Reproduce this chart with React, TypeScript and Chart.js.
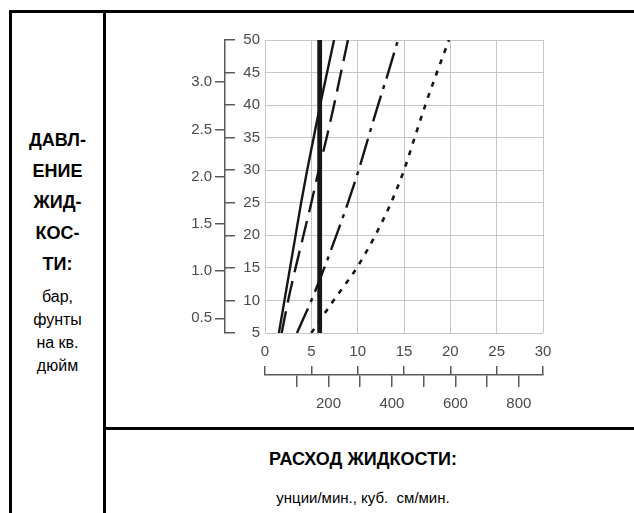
import React, { useEffect, useRef } from "react";
import { Chart, registerables } from "chart.js";

Chart.register(...registerables);

// ---- data ----
const PSI = [5, 10, 15, 20, 25, 30, 35, 40, 45, 50];
const FLOW_SOLID = [1.5, 2.1, 2.7, 3.3, 3.9, 4.55, 5.25, 5.95, 6.7, 7.45];
const FLOW_DASHED = [1.8, 2.5, 3.3, 4.15, 5.0, 5.8, 6.65, 7.45, 8.2, 8.95];
const FLOW_DASHDOT = [3.45, 5.0, 6.4, 7.7, 8.95, 10.1, 11.15, 12.2, 13.3, 14.35];
const FLOW_DOTTED = [5.0, 7.4, 9.9, 11.9, 13.6, 15.0, 16.15, 17.3, 18.55, 19.85];
const FLOW_LIMIT = [5.9, 5.9];
const PSI_RANGE = [5, 50];

const OZ_TICKS = [0, 5, 10, 15, 20, 25, 30];
const PSI_TICKS = [5, 10, 15, 20, 25, 30, 35, 40, 45, 50];
const BAR_TICKS = [0.5, 1.0, 1.5, 2.0, 2.5, 3.0];
const CC_TICKS = [100, 200, 300, 400, 500, 600, 700, 800];
const CC_LABELED = [200, 400, 600, 800];
const PSI_PER_BAR = 14.5038;
const CC_PER_OZ = 29.2;

const LEFT_BOLD = ["ДАВЛ-", "ЕНИЕ", "ЖИД-", "КОС-", "ТИ:"];
const LEFT_UNITS = ["бар,", "фунты", "на кв.", "дюйм"];
const BOTTOM_TITLE = "РАСХОД ЖИДКОСТИ:";
const BOTTOM_UNITS = "унции/мин., куб.  см/мин.";

const FONT = '"Liberation Sans", Arial, Helvetica, sans-serif';

const pts = (xs: number[], ys: number[]) => xs.map((x, i) => ({ x, y: ys[i] }));
const setTicks = (vals: number[]) => (s: any) => {
  s.ticks = vals.map((v) => ({ value: v }));
};

export default function App() {
  const ref = useRef<HTMLCanvasElement>(null);

  useEffect(() => {
    const canvas = ref.current;
    if (!canvas) return;
    const labelColor = "#4a4a4a";
    const axisColor = "#5a5a5a";
    const gridColor = "#c6c6c6";
    const lineColor = "#161616";
    const font = { family: FONT, size: 15 };

    const curve = {
      showLine: true,
      borderColor: lineColor,
      pointRadius: 0,
      cubicInterpolationMode: "monotone",
    };

    const chart = new Chart(canvas, {
      type: "scatter",
      data: {
        datasets: [
          { ...curve, data: pts(FLOW_SOLID, PSI), borderWidth: 2.4 },
          { ...curve, data: pts(FLOW_DASHED, PSI), borderWidth: 2.4, borderDash: [22, 9] },
          { ...curve, data: pts(FLOW_DASHDOT, PSI), borderWidth: 2.4, borderDash: [27, 7, 4, 7] },
          { ...curve, data: pts(FLOW_DOTTED, PSI), borderWidth: 2.6, borderDash: [5, 7] },
          {
            data: pts(FLOW_LIMIT, PSI_RANGE),
            showLine: true,
            borderColor: lineColor,
            borderWidth: 4.8,
            pointRadius: 0,
          },
        ],
      },
      options: {
        animation: false,
        responsive: false,
        maintainAspectRatio: false,
        layout: { padding: { left: 79, right: 91, top: 26, bottom: 12 } },
        plugins: { legend: { display: false }, tooltip: { enabled: false } },
        scales: {
          x: {
            type: "linear",
            position: "bottom",
            min: 0,
            max: 30,
            afterBuildTicks: setTicks(OZ_TICKS),
            ticks: { color: labelColor, font, padding: 10, autoSkip: false, maxRotation: 0 },
            grid: { color: gridColor, lineWidth: 1, drawTicks: false },
            border: { display: false },
            afterFit: (s: any) => {
              s.height = 33;
            },
          },
          xTicks: {
            type: "linear",
            axis: "x",
            position: "bottom",
            weight: 1,
            min: 0,
            max: 30,
            afterBuildTicks: setTicks(OZ_TICKS),
            ticks: { display: false, autoSkip: false },
            grid: { drawOnChartArea: false, drawTicks: true, tickLength: 9, color: axisColor, lineWidth: 1.5 },
            border: { display: false },
            afterFit: (s: any) => {
              s.height = 9;
            },
          },
          xCc: {
            type: "linear",
            axis: "x",
            position: "bottom",
            weight: 2,
            min: 0,
            max: 30 * CC_PER_OZ,
            afterBuildTicks: setTicks(CC_TICKS),
            ticks: {
              color: labelColor,
              font,
              padding: 8,
              autoSkip: false,
              maxRotation: 0,
              callback: (v: any) => (CC_LABELED.includes(Number(v)) ? String(v) : ""),
            },
            grid: { drawOnChartArea: false, drawTicks: true, tickLength: 12, color: axisColor, lineWidth: 1.5 },
            border: { display: true, color: axisColor, width: 1.5 },
            afterFit: (s: any) => {
              s.height = 40;
            },
          },
          y: {
            type: "linear",
            position: "left",
            min: 5,
            max: 50,
            afterBuildTicks: setTicks(PSI_TICKS),
            ticks: { color: labelColor, font, padding: 5, autoSkip: false },
            grid: { color: gridColor, lineWidth: 1, drawTicks: false },
            border: { display: false },
            afterFit: (s: any) => {
              s.width = 30;
            },
          },
          yTicks: {
            type: "linear",
            axis: "y",
            position: "left",
            weight: 1,
            min: 5,
            max: 50,
            afterBuildTicks: setTicks(PSI_TICKS),
            ticks: { display: false, autoSkip: false },
            grid: { drawOnChartArea: false, drawTicks: true, tickLength: 10, color: axisColor, lineWidth: 1.5 },
            border: { display: false },
            afterFit: (s: any) => {
              s.width = 10;
            },
          },
          yBar: {
            type: "linear",
            axis: "y",
            position: "left",
            weight: 2,
            min: 5 / PSI_PER_BAR,
            max: 50 / PSI_PER_BAR,
            afterBuildTicks: setTicks(BAR_TICKS),
            ticks: {
              color: labelColor,
              font,
              padding: 3,
              autoSkip: false,
              callback: (v: any) => Number(v).toFixed(1),
            },
            grid: { drawOnChartArea: false, drawTicks: true, tickLength: 10, color: axisColor, lineWidth: 1.5 },
            border: { display: true, color: axisColor, width: 1.5 },
            afterFit: (s: any) => {
              s.width = 40;
            },
          },
        },
      } as any,
    });
    return () => chart.destroy();
  }, []);

  const line = (l: number, t: number, w: number, h: number) => (
    <div style={{ position: "absolute", left: l, top: t, width: w, height: h, background: "#000" }} />
  );

  return (
    <div
      style={{
        position: "absolute",
        left: 0,
        top: 0,
        width: 634,
        height: 513,
        overflow: "hidden",
        background: "#fff",
        fontFamily: FONT,
        color: "#000",
      }}
    >
      <canvas
        ref={ref}
        width={528}
        height={413}
        style={{ position: "absolute", left: 106, top: 14, width: 528, height: 413 }}
      />
      {line(9, 10, 625, 3)}
      {line(9, 10, 3, 503)}
      {line(103, 10, 3, 503)}
      {line(103, 427, 531, 3)}
      <div
        style={{
          position: "absolute",
          left: 12,
          width: 91,
          top: 125,
          textAlign: "center",
          fontWeight: "bold",
          fontSize: 18,
          lineHeight: "31px",
        }}
      >
        {LEFT_BOLD.map((s) => (
          <div key={s}>{s}</div>
        ))}
      </div>
      <div
        style={{
          position: "absolute",
          left: 12,
          width: 91,
          top: 285,
          textAlign: "center",
          fontSize: 16,
          lineHeight: "23px",
        }}
      >
        {LEFT_UNITS.map((s) => (
          <div key={s}>{s}</div>
        ))}
      </div>
      <div
        style={{
          position: "absolute",
          left: 106,
          width: 514,
          top: 447,
          textAlign: "center",
          fontWeight: "bold",
          fontSize: 18,
          lineHeight: "24px",
        }}
      >
        {BOTTOM_TITLE}
      </div>
      <div
        style={{
          position: "absolute",
          left: 106,
          width: 514,
          top: 486,
          textAlign: "center",
          fontSize: 15,
          lineHeight: "24px",
          whiteSpace: "pre",
        }}
      >
        {BOTTOM_UNITS}
      </div>
    </div>
  );
}
